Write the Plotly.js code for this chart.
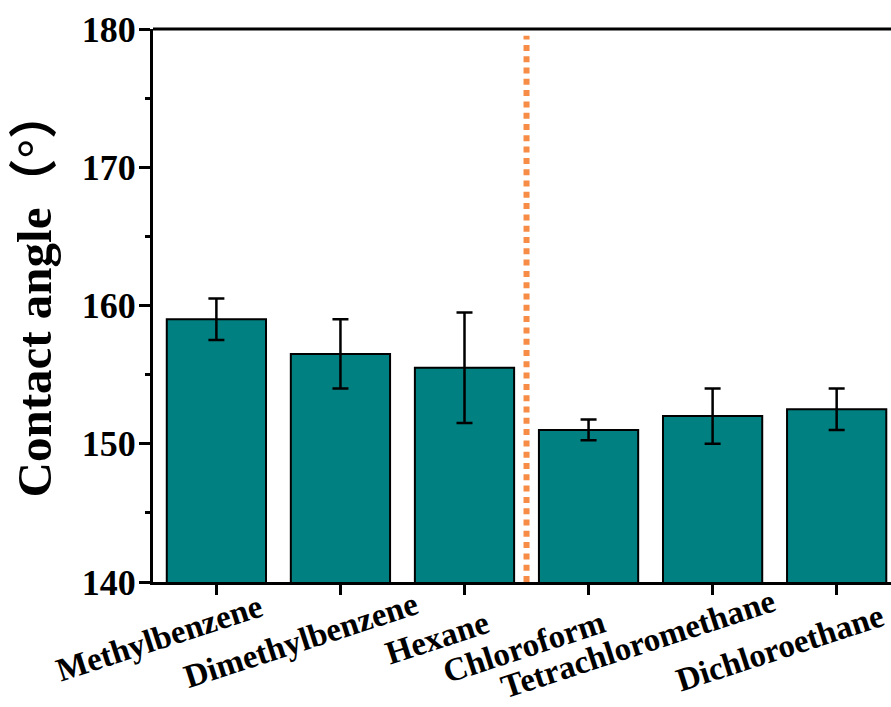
<!DOCTYPE html>
<html>
<head>
<meta charset="utf-8">
<script src="https://cdn.plot.ly/plotly-3.0.1.min.js"></script>
<style>html,body{margin:0;padding:0;background:#fff;}#chart{width:891px;height:707px;}</style>
</head>
<body>
<div id="chart"></div>
<script>
// ---- data ----
const categories = ["Methylbenzene", "Dimethylbenzene", "Hexane", "Chloroform", "Tetrachloromethane", "Dichloroethane"];
const contactAngle = [159.0, 156.5, 155.5, 151.0, 152.0, 152.5];
const contactAngleErr = [1.5, 2.5, 4.0, 0.75, 2.0, 1.5];
const yTickVals = [140, 150, 160, 170, 180];
const yTickText = ["140", "150", "160", "170", "180"];
const yTitle = "Contact angle（°）";

// ---- layout helpers (positions / styles) ----
const labelShiftX = [-57, -39, -28, -65, -75, -57];
const labelShiftY = [-56, -58, -56, -65, -62, -66];
const serifBold = {family: "Liberation Serif, 'Times New Roman', serif", weight: "bold", color: "#000"};

const trace = {
  type: "bar",
  x: categories,
  y: contactAngle,
  width: 0.8,
  marker: {color: "#008080", line: {color: "#000", width: 2}},
  error_y: {type: "data", array: contactAngleErr, visible: true, color: "#000", thickness: 2.5, width: 8},
  hoverinfo: "x+y"
};

const annotations = categories.map((c, i) => ({
  x: c, xref: "x", y: 0, yref: "paper",
  xanchor: "center", yanchor: "middle",
  xshift: labelShiftX[i], yshift: labelShiftY[i],
  text: c, textangle: -18, showarrow: false,
  font: Object.assign({size: 33}, serifBold)
}));
annotations.push({
  x: -0.161, xref: "paper", y: 0.477, yref: "paper",
  xanchor: "center", yanchor: "middle", yshift: 24,
  text: yTitle, textangle: -90, showarrow: false,
  font: {family: "Liberation Serif, 'Noto Sans CJK SC', serif", weight: "bold", size: 49, color: "#000"}
});

const layout = {
  width: 891, height: 707,
  margin: {l: 153, r: 0, t: 29, b: 125, pad: 0},
  paper_bgcolor: "#fff", plot_bgcolor: "#fff",
  showlegend: false,
  bargap: 0.2,
  xaxis: {
    type: "category",
    range: [-0.511, 5.438],
    showgrid: false, zeroline: false,
    showline: true, linecolor: "#000", linewidth: 3,
    ticks: "outside", ticklen: 10, tickwidth: 3, tickcolor: "#000",
    showticklabels: false
  },
  yaxis: {
    range: [140, 180],
    showgrid: false, zeroline: false,
    showline: true, linecolor: "#000", linewidth: 3,
    ticks: "outside", ticklen: 11, tickwidth: 3, tickcolor: "#000",
    tickvals: yTickVals, ticktext: yTickText,
    tickfont: Object.assign({size: 36}, serifBold),
    ticklabelstandoff: -4,
    minor: {ticks: "outside", ticklen: 5, tickwidth: 3, tickcolor: "#000", dtick: 5, showgrid: false}
  },
  shapes: [
    {type: "line", xref: "paper", yref: "paper", x0: 0, x1: 1, y0: 1, y1: 1,
     line: {color: "#000", width: 3}},
    {type: "line", xref: "x", yref: "paper", x0: 2.5, x1: 2.5, y0: 0, y1: 0.988,
     line: {color: "#f68c45", width: 6, dash: "6px,5.3px"}}
  ],
  annotations: annotations
};

Plotly.newPlot("chart", [trace], layout, {displayModeBar: false, staticPlot: true});
</script>
</body>
</html>
